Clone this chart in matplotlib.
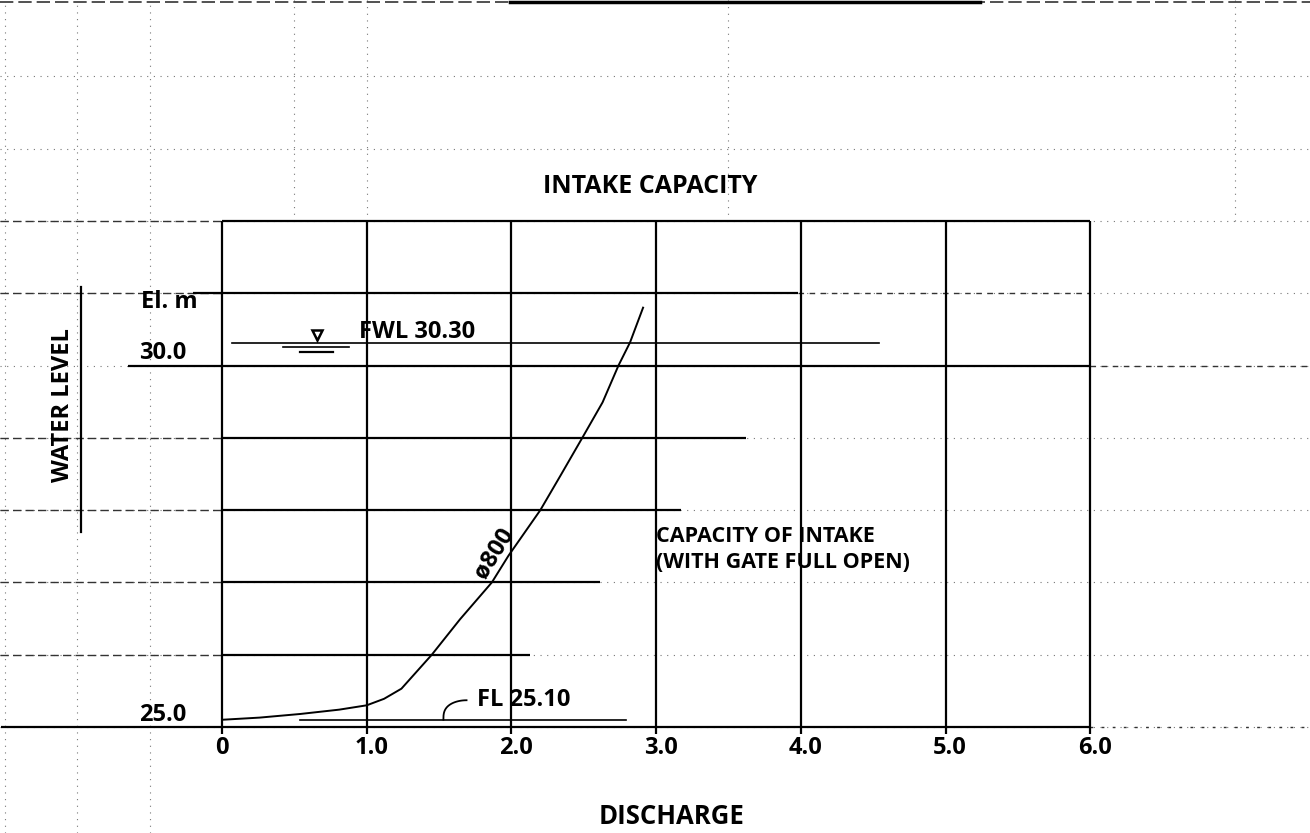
import matplotlib
matplotlib.use("Agg")
import matplotlib.pyplot as plt
import numpy as np

# ---- data ----
discharge = [0.0, 0.26, 0.54, 0.81, 1.0, 1.12, 1.24, 1.45, 1.645, 1.865, 1.98, 2.20, 2.34, 2.49, 2.63, 2.74, 2.82, 2.91]
water_level = [25.10, 25.13, 25.18, 25.24, 25.30, 25.39, 25.53, 26.00, 26.49, 27.00, 27.37, 28.00, 28.48, 29.00, 29.49, 30.00, 30.32, 30.80]
x_ticks = [0, 1, 2, 3, 4, 5, 6]
x_tick_labels = ["0", "1.0", "2.0", "3.0", "4.0", "5.0", "6.0"]
y_tick_values = [30.0, 25.0]
y_tick_labels = ["30.0", "25.0"]
fwl = 30.30
fl = 25.10

# horizontal grid lines: level, x start, x end
h_levels = [32.0, 31.0, 30.0, 29.0, 28.0, 27.0, 26.0, 25.0]
h_starts = [0.0, -0.20, -0.65, 0.0, 0.0, 0.0, 0.0, -1.53]
h_ends = [6.0, 3.98, 6.0, 3.62, 3.17, 2.61, 2.13, 6.0]

FONT = ["Open Sans", "DejaVu Sans"]
W, H = 1310, 833
fig = plt.figure(figsize=(W / 100, H / 100), dpi=100)
ax = fig.add_axes([0, 0, 1, 1])
x0px, xs = 222, 144.7
y0px, ys = 727, 72.3
ax.set_xlim(-x0px / xs, (W - x0px) / xs)
ax.set_ylim(25 - (H - y0px) / ys, 25 + y0px / ys)
ax.axis("off")

xmin, xmax = ax.get_xlim()
ymin, ymax = ax.get_ylim()

# ---- graph-paper background (faint dotted lines) ----
dot = dict(color="#777777", lw=0.8, ls=(0, (1, 5)), zorder=0)
for lv in [25, 26, 27, 28, 29, 30, 31, 32, 33, 34]:
    ax.plot([xmin, xmax], [lv, lv], **dot)
for xv in [-1.5, -1.0, -0.5]:
    ax.plot([xv, xv], [ymin, ymax], **dot)
for xv in [0.5, 1.0, 3.5, 7.0]:
    ax.plot([xv, xv], [32.0, ymax], **dot)
# dashed darker continuation left of axis
for lv in [32, 31, 29, 28, 27, 26]:
    ax.plot([xmin, 0], [lv, lv], color="#333333", lw=1.0, ls=(0, (6, 3)), zorder=1)
ax.plot([6.0, xmax], [30, 30], color="#333333", lw=1.0, ls=(0, (4, 4)), zorder=1)
ax.plot([6.0, xmax], [25, 25], color="#333333", lw=1.0, ls=(0, (2, 6)), zorder=1)
ax.plot([3.98, 6.0], [31, 31], color="#333333", lw=1.0, ls=(0, (4, 4)), zorder=1)
# top scan edge line
ax.plot([xmin, xmax], [35.03, 35.03], color="#333333", lw=1.2, ls=(0, (8, 3)), zorder=1)
ax.plot([(510 - x0px) / xs, (980 - x0px) / xs], [35.03, 35.03], color="black", lw=2.5, zorder=2)

# ---- main grid ----
for lv, a, b in zip(h_levels, h_starts, h_ends):
    ax.plot([a, b], [lv, lv], color="black", lw=1.6, zorder=3, solid_capstyle="butt")
for xv in x_ticks:
    ax.plot([xv, xv], [24.9, 32.0], color="black", lw=1.6, zorder=3, solid_capstyle="butt")

# ---- curve ----
ax.plot(discharge, water_level, color="black", lw=1.4, zorder=4)

# ---- FWL ----
ax.plot([0.07, 4.54], [fwl + 0.01, fwl + 0.01], color="black", lw=1.2, zorder=4)
ax.plot([0.42, 0.88], [fwl - 0.05, fwl - 0.05], color="black", lw=1.2, zorder=4)
ax.plot([0.54, 0.77], [fwl - 0.11, fwl - 0.11], color="black", lw=1.6, zorder=4)
ax.plot([0.655], [fwl + 0.12], marker="v", ms=7, mfc="white", mec="black", mew=1.8, zorder=5)
ax.text(0.945, fwl + 0.17, "FWL 30.30", fontsize=17, fontweight="bold", family=FONT,
        ha="left", va="center", zorder=6)

# ---- FL ----
ax.plot([0.54, 2.79], [fl, fl], color="black", lw=1.2, zorder=4)
t = np.linspace(0, 1, 20)
hx = 1.53 + 0.16 * (1 - np.cos(t * np.pi / 2)) ** 0.9
hy = fl + 0.27 * np.sin(t * np.pi / 2) ** 0.6
ax.plot(hx, hy, color="black", lw=1.3, zorder=4)
ax.text(1.76, 25.38, "FL 25.10", fontsize=17, fontweight="bold", family=FONT,
        ha="left", va="center", zorder=6)

# ---- labels ----
for xv, lab in zip(x_ticks, x_tick_labels):
    ax.text(xv + (0.03 if xv else 0.0), 24.71, lab, fontsize=17, fontweight="bold",
            family=FONT, ha="center", va="center", zorder=6)
for yv, lab in zip(y_tick_values, y_tick_labels):
    ax.text(-0.25, yv + 0.17, lab, fontsize=17, fontweight="bold", family=FONT,
            ha="right", va="center", zorder=6)
ax.text(-0.17, 30.88, "El. m", fontsize=17, fontweight="bold", family=FONT,
        ha="right", va="center", zorder=6)

ax.text(-1.097, 29.45, "WATER LEVEL", fontsize=17, fontweight="bold", family=FONT,
        rotation=90, ha="center", va="center", zorder=6)
ax.plot([-0.972, -0.972], [27.70, 31.09], color="black", lw=1.6, zorder=3)

ax.text(2.96, 32.47, "INTAKE CAPACITY", fontsize=18, fontweight="bold", family=FONT,
        ha="center", va="center", zorder=6)
ax.text(3.11, 23.76, "DISCHARGE", fontsize=18.5, fontweight="bold", family=FONT,
        ha="center", va="center", zorder=6)

ax.text(1.88, 27.41, "ø800", fontsize=17, fontweight="bold", family=FONT,
        rotation=58, ha="center", va="center", zorder=6)
ax.text(3.0, 27.63, "CAPACITY OF INTAKE", fontsize=15.5, fontweight="bold", family=FONT,
        ha="left", va="center", zorder=6)
ax.text(3.0, 27.27, "(WITH GATE FULL OPEN)", fontsize=15.5, fontweight="bold", family=FONT,
        ha="left", va="center", zorder=6)

fig.savefig("out.png", dpi=100, facecolor="white")
